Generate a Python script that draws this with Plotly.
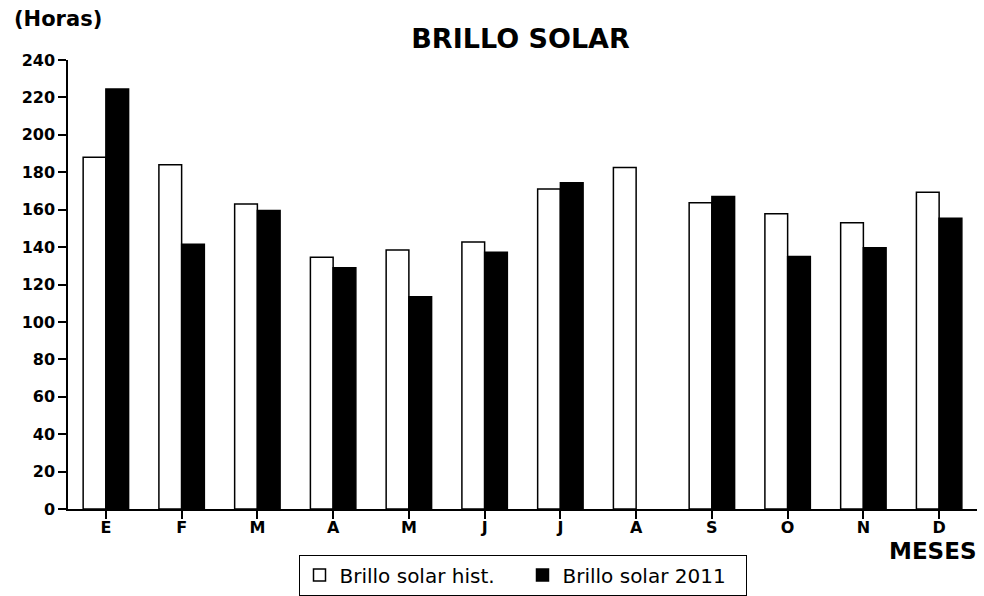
import plotly.graph_objects as go

months = ["E", "F", "M", "A", "M", "J", "J", "A", "S", "O", "N", "D"]
hist = [188, 184, 163, 134.5, 138.5, 142.7, 171, 182.6, 163.7, 157.8, 153, 169.3]
y2011 = [224.5, 141.5, 159.6, 129, 113.5, 137.2, 174.4, None, 167, 135, 139.7, 155.4]
yticks = list(range(0, 241, 20))

x = list(range(len(months)))
FONT = "DejaVu Sans, Liberation Sans, Arial, sans-serif"

fig = go.Figure()
fig.add_trace(go.Bar(
    x=x, y=hist, name="Brillo solar hist.",
    marker=dict(color="white", line=dict(color="black", width=1.5)),
))
fig.add_trace(go.Bar(
    x=x, y=y2011, name="Brillo solar 2011",
    marker=dict(color="black", line=dict(color="black", width=1.5)),
))

fig.update_layout(
    width=984, height=596,
    margin=dict(l=68, r=7, t=60, b=87, autoexpand=False),
    paper_bgcolor="white", plot_bgcolor="white",
    barmode="group", bargap=0.4, bargroupgap=0,
    font=dict(family=FONT, color="black"),
    title=dict(text="<b>BRILLO SOLAR</b>", x=0.529, xanchor="center",
               y=0.9346, yanchor="middle", font=dict(size=27, family=FONT)),
    showlegend=True,
    legend=dict(orientation="h", x=0.5, xanchor="center", y=-0.147, yanchor="middle",
                bordercolor="black", borderwidth=1, font=dict(size=20, family=FONT),
                itemwidth=30, traceorder="normal",
                entrywidth=178, entrywidthmode="pixels"),
    xaxis=dict(
        tickmode="array", tickvals=x, ticktext=months, range=[-0.5, 11.5],
        showline=True, linecolor="black", linewidth=1.5,
        ticks="outside", tickson="boundaries", ticklen=8, tickcolor="black", tickwidth=1.5,
        tickfont=dict(size=16, family=FONT, weight="bold"), ticklabelstandoff=-5,
        showgrid=False, zeroline=False,
    ),
    yaxis=dict(
        range=[0, 240], tickmode="array", tickvals=yticks,
        showline=True, linecolor="black", linewidth=1.5,
        ticks="outside", ticklen=8, tickcolor="black", tickwidth=1.5,
        tickfont=dict(size=16, family=FONT, weight="bold"),
        showgrid=False, zeroline=False,
    ),
    annotations=[
        dict(text="<b>(Horas)</b>", xref="paper", yref="paper", x=-0.0619, y=1.0913,
             xanchor="left", yanchor="middle", showarrow=False, font=dict(size=21, family=FONT)),
        dict(text="<b>MESES</b>", xref="paper", yref="paper", x=1.0011, y=-0.094,
             xanchor="right", yanchor="middle", showarrow=False, font=dict(size=23, family=FONT)),
    ],
)

fig.write_html("out.html", config={"displayModeBar": False},
               post_script="document.body.style.margin='0px';")
